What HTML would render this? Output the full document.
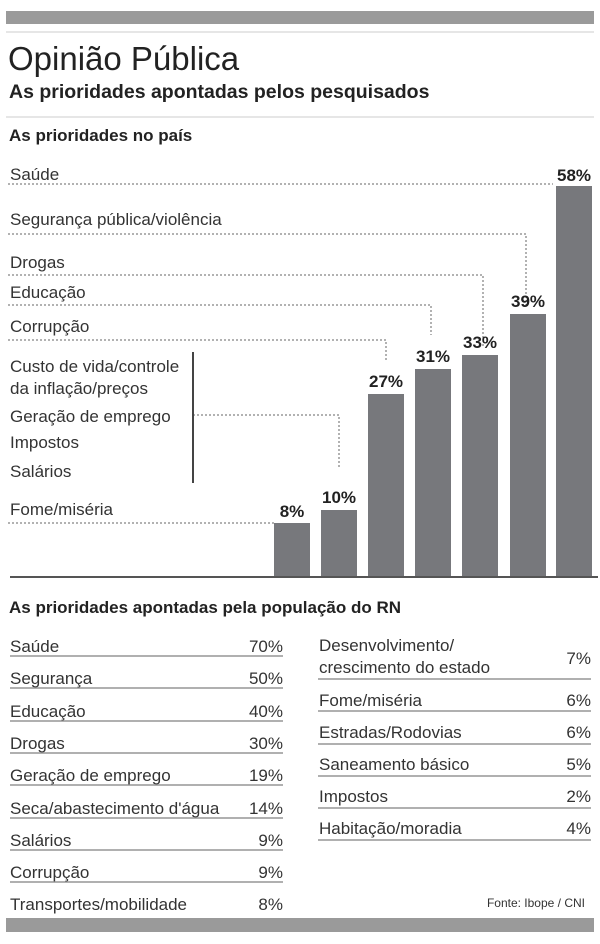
<!DOCTYPE html>
<html><head><meta charset="utf-8"><style>
body{margin:0;background:#fff}
svg text{font-family:"Liberation Sans Narrow","Liberation Sans",sans-serif;fill:#333}
.b{font-weight:bold;fill:#222}
.l{font-size:17px}
.p{font-size:17px;text-anchor:end}
.v{font-size:17px;font-weight:bold;text-anchor:middle;fill:#222}
</style></head><body>
<svg width="600" height="939" viewBox="0 0 600 939" xmlns="http://www.w3.org/2000/svg">
<rect x="6" y="11" width="588" height="13" fill="#9a9a9a"/>
<line x1="6" y1="32" x2="594" y2="32" stroke="#ddd" stroke-width="1.5"/>
<text x="8" y="70" style="font-size:33px;fill:#222">Opinião Pública</text>
<text x="9" y="98" class="b" style="font-size:19.5px">As prioridades apontadas pelos pesquisados</text>
<line x1="6" y1="117" x2="594" y2="117" stroke="#ddd" stroke-width="1.5"/>
<text x="9" y="141" class="b" style="font-size:17px">As prioridades no país</text>

<g stroke="#666" stroke-width="1" stroke-dasharray="2,2" fill="none">
<polyline points="8,184 553,184"/>
<polyline points="8,234 526,234 526,308"/>
<polyline points="8,275 483,275 483,348"/>
<polyline points="8,305 431,305 431,335"/>
<polyline points="8,340 386,340 386,362"/>
<polyline points="193,415 339,415 339,469"/>
<polyline points="8,523 274,523"/>
</g>
<line x1="193" y1="352" x2="193" y2="483" stroke="#444" stroke-width="2"/>

<text x="10" y="180" class="l">Saúde</text>
<text x="10" y="225" class="l">Segurança pública/violência</text>
<text x="10" y="268" class="l">Drogas</text>
<text x="10" y="298" class="l">Educação</text>
<text x="10" y="332" class="l">Corrupção</text>
<text x="10" y="372" class="l">Custo de vida/controle</text>
<text x="10" y="394" class="l">da inflação/preços</text>
<text x="10" y="422" class="l">Geração de emprego</text>
<text x="10" y="448" class="l">Impostos</text>
<text x="10" y="477" class="l">Salários</text>
<text x="10" y="515" class="l">Fome/miséria</text>

<g fill="#77787c">
<rect x="274" y="523" width="36" height="54"/>
<rect x="321" y="510" width="36" height="67"/>
<rect x="368" y="394" width="36" height="183"/>
<rect x="415" y="369" width="36" height="208"/>
<rect x="462" y="355" width="36" height="222"/>
<rect x="510" y="314" width="36" height="263"/>
<rect x="556" y="186" width="36" height="391"/>
</g>
<rect x="10" y="576" width="588" height="2" fill="#555"/>
<text x="292" y="517" class="v">8%</text>
<text x="339" y="503" class="v">10%</text>
<text x="386" y="387" class="v">27%</text>
<text x="433" y="362" class="v">31%</text>
<text x="480" y="348" class="v">33%</text>
<text x="528" y="307" class="v">39%</text>
<text x="574" y="181" class="v">58%</text>

<text x="9" y="613" class="b" style="font-size:17px">As prioridades apontadas pela população do RN</text>

<g stroke="#b0b0b0" stroke-width="2">
<line x1="10" y1="656" x2="283" y2="656"/>
<line x1="10" y1="688" x2="283" y2="688"/>
<line x1="10" y1="721" x2="283" y2="721"/>
<line x1="10" y1="753" x2="283" y2="753"/>
<line x1="10" y1="785" x2="283" y2="785"/>
<line x1="10" y1="818" x2="283" y2="818"/>
<line x1="10" y1="850" x2="283" y2="850"/>
<line x1="10" y1="882" x2="283" y2="882"/>
<line x1="318" y1="679" x2="591" y2="679"/>
<line x1="318" y1="711" x2="591" y2="711"/>
<line x1="318" y1="744" x2="591" y2="744"/>
<line x1="318" y1="776" x2="591" y2="776"/>
<line x1="318" y1="808" x2="591" y2="808"/>
<line x1="318" y1="840" x2="591" y2="840"/>
</g>
<text x="10" y="652" class="l">Saúde</text><text x="283" y="652" class="p">70%</text>
<text x="10" y="684" class="l">Segurança</text><text x="283" y="684" class="p">50%</text>
<text x="10" y="717" class="l">Educação</text><text x="283" y="717" class="p">40%</text>
<text x="10" y="749" class="l">Drogas</text><text x="283" y="749" class="p">30%</text>
<text x="10" y="781" class="l">Geração de emprego</text><text x="283" y="781" class="p">19%</text>
<text x="10" y="814" class="l">Seca/abastecimento d'água</text><text x="283" y="814" class="p">14%</text>
<text x="10" y="846" class="l">Salários</text><text x="283" y="846" class="p">9%</text>
<text x="10" y="878" class="l">Corrupção</text><text x="283" y="878" class="p">9%</text>
<text x="10" y="910" class="l">Transportes/mobilidade</text><text x="283" y="910" class="p">8%</text>

<text x="319" y="651" class="l">Desenvolvimento/</text>
<text x="319" y="673" class="l">crescimento do estado</text><text x="591" y="664" class="p">7%</text>
<text x="319" y="706" class="l">Fome/miséria</text><text x="591" y="706" class="p">6%</text>
<text x="319" y="738" class="l">Estradas/Rodovias</text><text x="591" y="738" class="p">6%</text>
<text x="319" y="770" class="l">Saneamento básico</text><text x="591" y="770" class="p">5%</text>
<text x="319" y="802" class="l">Impostos</text><text x="591" y="802" class="p">2%</text>
<text x="319" y="834" class="l">Habitação/moradia</text><text x="591" y="834" class="p">4%</text>

<text x="585" y="907" style="font-size:12px;text-anchor:end">Fonte: Ibope / CNI</text>
<rect x="6" y="918" width="588" height="14" fill="#9a9a9a"/>
</svg>
</body></html>
